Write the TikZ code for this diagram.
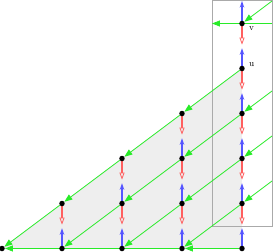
\documentclass[tikz,border=0pt]{standalone}
\usetikzlibrary{arrows.meta,calc}
\pgfdeclarelayer{bg}
\pgfdeclarelayer{fg}
\pgfsetlayers{bg,main,fg}
\definecolor{gline}{RGB}{40,235,40}
\definecolor{bline}{RGB}{85,85,255}
\definecolor{rline}{RGB}{255,95,95}
\definecolor{gfill}{RGB}{238,238,238}
\definecolor{boxc}{RGB}{170,170,170}
\tikzset{
  dot/.style={circle,fill=black,inner sep=0pt,minimum size=5.5pt},
  gedge/.style={draw=gline,line width=0.8pt,-{Triangle[length=8pt,width=6pt,fill=gline]}},
  bedge/.style={draw=bline,line width=1.3pt,-{Stealth[open,length=6.5pt,width=4.5pt,line width=0.8pt]}},
  redge/.style={draw=rline,line width=1.3pt,-{Triangle[open,length=7pt,width=5pt,line width=0.8pt]}},
  lbl/.style={font=\fontsize{9}{10}\selectfont,inner sep=0pt,anchor=west},
}
\begin{document}
\begin{tikzpicture}[x=1pt,y=-1pt]
\useasboundingbox (0,0) rectangle (274,252);
% dots
\begin{pgfonlayer}{fg}
\node[dot] (n00) at (2,248.5) {};
\node[dot] (n10) at (62,248.5) {};
\node[dot] (n11) at (62,203.5) {};
\node[dot] (n20) at (122,248.5) {};
\node[dot] (n21) at (122,203.5) {};
\node[dot] (n22) at (122,158.5) {};
\node[dot] (n30) at (182,248.5) {};
\node[dot] (n31) at (182,203.5) {};
\node[dot] (n32) at (182,158.5) {};
\node[dot] (n33) at (182,113.5) {};
\node[dot] (n40) at (242,248.5) {};
\node[dot] (n41) at (242,203.5) {};
\node[dot] (n42) at (242,158.5) {};
\node[dot] (n43) at (242,113.5) {};
\node[dot] (n44) at (242,68.5) {};
\node[dot] (n45) at (242,23.5) {};
\end{pgfonlayer}
% free ends
\coordinate (e0) at (272,181);
\coordinate (e1) at (272,136);
\coordinate (e2) at (272,91);
\coordinate (e5) at (272,1);
\coordinate (hR) at (272,23.5);
\coordinate (hL) at (212,23.5);
\coordinate (top) at (242,1);
% grey region and box
\begin{pgfonlayer}{bg}
\fill[gfill] (n00.center) -- (n44.center) -- (n40.center) -- cycle;
\draw[boxc,line width=0.7pt] (212,0.5) rectangle (272,226);
\end{pgfonlayer}
% green edges
\draw[gedge] (n11) -- (n00);
\draw[gedge] (n22) -- (n11);
\draw[gedge] (n33) -- (n22);
\draw[gedge] (n44) -- (n33);
\draw[gedge] (n21) -- (n10);
\draw[gedge] (n32) -- (n21);
\draw[gedge] (n43) -- (n32);
\draw[gedge] (e2) -- (n43);
\draw[gedge] (n31) -- (n20);
\draw[gedge] (n42) -- (n31);
\draw[gedge] (e1) -- (n42);
\draw[gedge] (n41) -- (n30);
\draw[gedge] (e0) -- (n41);
\draw[gedge] (n40) -- (n30);
\draw[gedge] (n30) -- (n00);
\draw[gedge] (e5) -- (n45);
\draw[gedge] (hR) -- (hL);
% vertical edges
\foreach \lo/\hi in {n10/n11,n20/n21,n21/n22,n30/n31,n31/n32,n32/n33,n40/n41,n41/n42,n42/n43,n43/n44,n44/n45}{
  \draw[redge] (\hi) -- ($(\hi.center)!0.47!(\lo.center)$);
  \draw[bedge] (\lo) -- ($(\lo.center)!0.45!(\hi.center)$);
}
\draw[bedge] (n45) -- (top);
% labels
\node[lbl] (lu) at (249,65) {u};
\node[lbl] (lv) at (249,28.5) {v};
\end{tikzpicture}
\end{document}
